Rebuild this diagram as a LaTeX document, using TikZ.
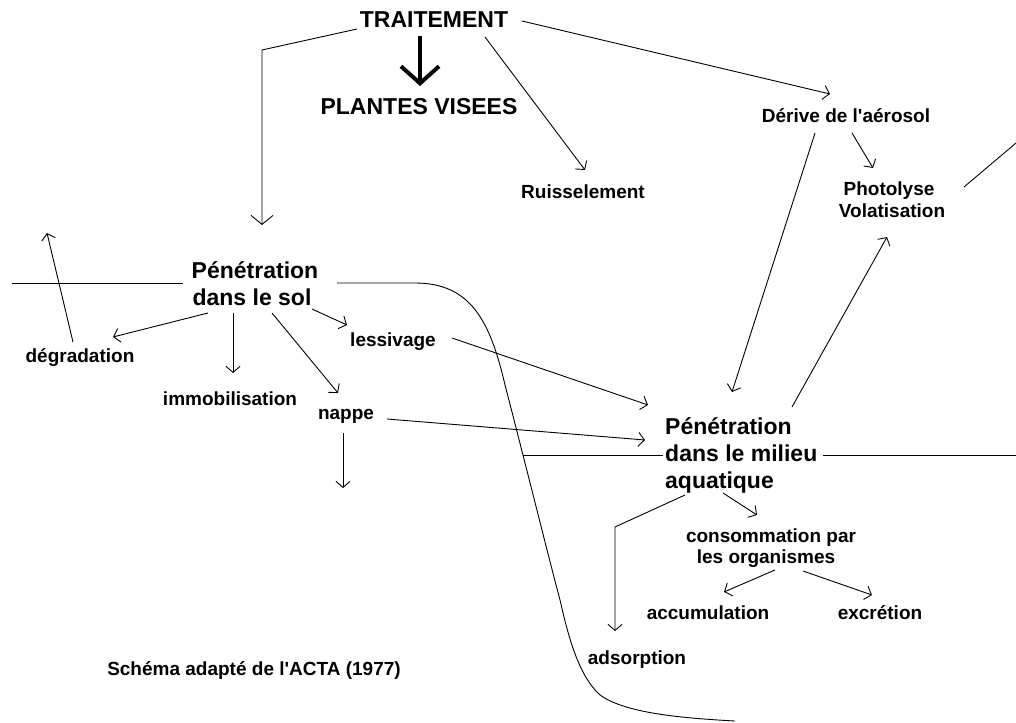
\documentclass[tikz,border=0pt]{standalone}
\usepackage{fontspec}
\setmainfont{Liberation Sans}
\usetikzlibrary{arrows.meta,calc}
\begin{document}
\begin{tikzpicture}[x=1pt,y=-1pt,
  big/.style={font=\fontsize{23}{27}\selectfont\bfseries, inner sep=0pt, anchor=base},
  bigw/.style={big, anchor=base west},
  lab/.style={font=\fontsize{19}{22}\selectfont\bfseries, inner sep=0pt, anchor=base},
  conn/.style={line width=0.9pt},
  arr/.style={conn, -{Straight Barb[length=6pt,width=14pt]}},
  bigarr/.style={conn, -{Straight Barb[length=9pt,width=22pt]}},
  fat/.style={line width=4pt, -{Straight Barb[length=17pt,width=38pt]}}
]
\useasboundingbox (0,0) rectangle (1016,722);
\fill[white] (0,0) rectangle (1016,722);

% nodes
\node[big] (trait) at (434,28) {TRAITEMENT};
\node[big] (plantes) at (419,115) {PLANTES VISEES};
\node[lab] (ruis) at (583,198) {Ruisselement};
\node[lab] (derive) at (846,123) {Dérive de l\textquotesingle aérosol};
\node[lab] (photoA) at (889,195) {Photolyse};
\node[lab] (photoB) at (892,217) {Volatisation};
\node[big] (solA) at (255,278) {Pénétration};
\node[big] (solB) at (252,305) {dans le sol};
\node[lab] (degr) at (80,362) {dégradation};
\node[lab] (immo) at (230,405) {immobilisation};
\node[lab] (nappe) at (346,419) {nappe};
\node[lab] (less) at (393,346) {lessivage};
\node[bigw] (milA) at (665,434) {Pénétration};
\node[bigw] (milB) at (665,461) {dans le milieu};
\node[bigw] (milC) at (665,488) {aquatique};
\node[lab] (cons1) at (771,542) {consommation par};
\node[lab] (cons2) at (766,563) {les organismes};
\node[lab] (accu) at (708,619) {accumulation};
\node[lab] (excr) at (880,619) {excrétion};
\node[lab] (adso) at (637,664) {adsorption};
\node[lab] (schema) at (254,675) {Schéma adapté de l\textquotesingle ACTA (1977)};

% free coordinates
\coordinate (cornerL) at (262,50);
\coordinate (solLeftEnd) at (12,283);
\coordinate (degrUp) at (47,233);
\coordinate (nappeDown) at (343,488);
\coordinate (rightEdgeTop) at (1016,143);
\coordinate (milLeftEnd) at (523,455);
\coordinate (milRightEnd) at (1016,455);
\coordinate (adsoCorner) at (615,527);
\coordinate (curveEnd) at (735,721);

% connectors from TRAITEMENT
\draw[bigarr] ($(trait.base)+(-77,1)$) -- (cornerL) -- ($(solA.base)+(7,-53)$);
\draw[fat] ($(trait.base)+(-14,8)$) -- ($(plantes.base)+(1,-29)$);
\draw[arr] ($(trait.base)+(51,9)$) -- ($(ruis.base)+(2,-28)$);
\draw[arr] ($(trait.base)+(88,-7)$) -- ($(derive.base)+(-16,-29)$);

% aerosol branch
\draw[arr] ($(derive.base)+(6,10)$) -- ($(photoA.base)+(-16,-27)$);
\draw[arr] ($(derive.base)+(-31,10)$) -- ($(milA.base west)+(67,-42)$);
\draw[arr] ($(milA.base west)+(127,-27)$) -- ($(photoB.base)+(-5,20)$);
\draw[conn] ($(photoA.base)+(75,-8)$) -- (rightEdgeTop);

% soil level line and curve
\draw[conn] (solLeftEnd) -- ($(solA.base)+(-72,5)$);
\draw[conn] ($(solA.base)+(82,5)$) -- (415,283)
  .. controls (470,283) and (490,320) .. (505,385)
  .. controls (522,450) and (548,555) .. (560,600)
  .. controls (568,635) and (578,675) .. (600,695)
  .. controls (625,713) and (680,718) .. (curveEnd);

% soil branch
\draw[arr] ($(solB.base)+(-44,8)$) -- ($(degr.base)+(33,-25)$);
\draw[arr] ($(degr.base)+(-7,-20)$) -- (degrUp);
\draw[arr] ($(solB.base)+(-19,8)$) -- ($(immo.base)+(3,-32)$);
\draw[arr] ($(solB.base)+(20,8)$) -- ($(nappe.base)+(-8,-26)$);
\draw[arr] ($(solB.base)+(60,4)$) -- ($(less.base)+(-46,-21)$);
\draw[arr] ($(nappe.base)+(-3,14)$) -- (nappeDown);
\draw[arr] ($(less.base)+(59,-8)$) -- ($(milA.base west)+(-17,-29)$);
\draw[arr] ($(nappe.base)+(41,0)$) -- ($(milA.base west)+(-20,6)$);

% water level line
\draw[conn] (milLeftEnd) -- ($(milB.base west)+(-2,-6)$);
\draw[conn] ($(milB.base west)+(158,-6)$) -- (milRightEnd);

% aquatic branch
\draw[arr] ($(milC.base west)+(20,7)$) -- (adsoCorner) -- ($(adso.base)+(-22,-33)$);
\draw[arr] ($(milC.base west)+(58,5)$) -- ($(cons1.base)+(-14,-27)$);
\draw[arr] ($(cons2.base)+(9,7)$) -- ($(accu.base)+(16,-27)$);
\draw[arr] ($(cons2.base)+(37,8)$) -- ($(excr.base)+(-8,-24)$);
\end{tikzpicture}
\end{document}
